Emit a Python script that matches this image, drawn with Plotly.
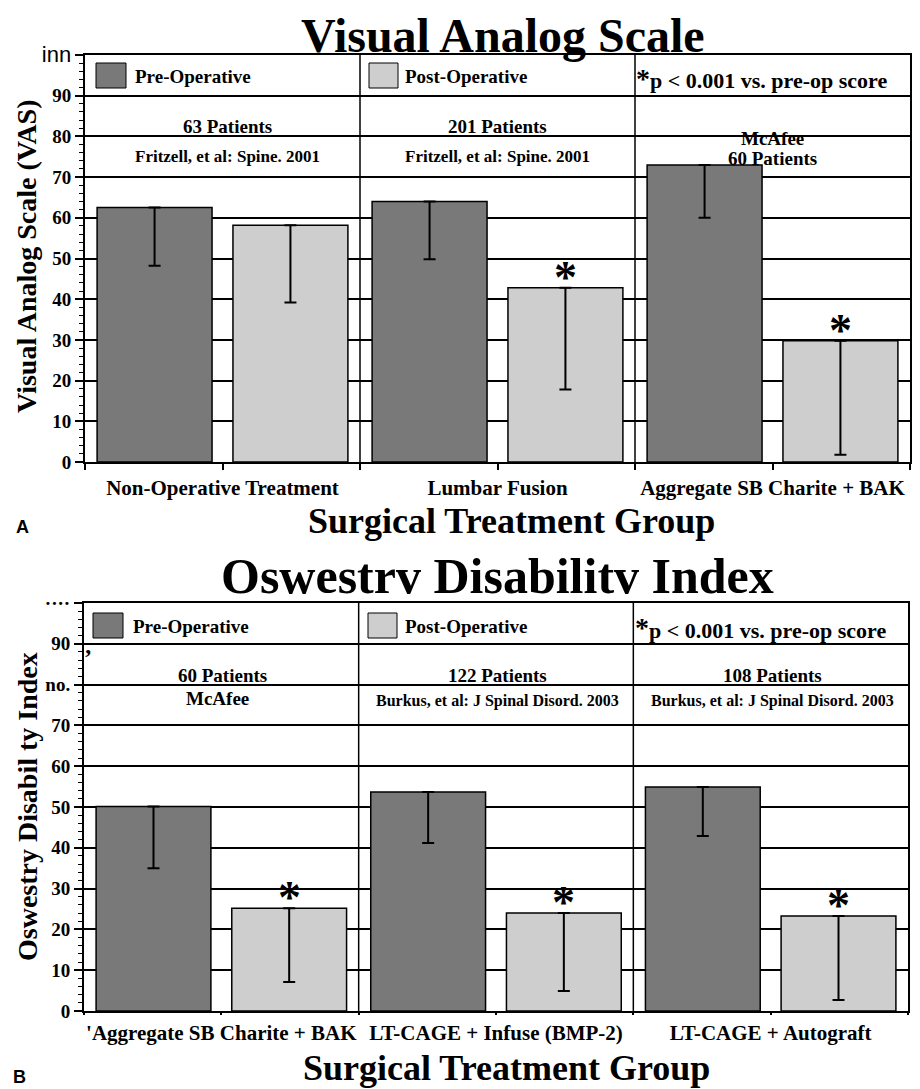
import plotly.graph_objects as go

# page pixel geometry: the browser body adds an 8px margin, so the figure is sized to fit
PAGE_W, PAGE_H = 920, 1089
OFF = 8
W, H = PAGE_W - OFF, PAGE_H - OFF

# ---------------- data ----------------
groups_A = ["Non-Operative Treatment", "Lumbar Fusion", "Aggregate SB Charite + BAK"]
pre_A = [62.5, 64.0, 73.0]
post_A = [58.2, 42.8, 29.8]
pre_err_A = [14.3, 14.2, 13.0]
post_err_A = [19.0, 25.0, 28.0]
sig_A = [False, True, True]
patients_A = ["63 Patients", "201 Patients", "McAfee"]
source_A = ["Fritzell, et al: Spine. 2001", "Fritzell, et al: Spine. 2001", "60 Patients"]
yticks_A = ["0", "10", "20", "30", "40", "50", "60", "70", "80", "90",
            "<span style=\"font-family:Liberation Sans Narrow, Liberation Sans;font-weight:normal;font-size:22px\">inn</span>"]

groups_B = ["'Aggregate SB Charite + BAK", "LT-CAGE + Infuse (BMP-2)", "LT-CAGE + Autograft"]
pre_B = [50.1, 53.7, 54.9]
post_B = [25.2, 24.0, 23.3]
pre_err_B = [15.1, 12.5, 12.0]
post_err_B = [18.1, 19.1, 20.6]
sig_B = [True, True, True]
patients_B = ["60 Patients", "122 Patients", "108 Patients"]
source_B = ["McAfee", "Burkus, et al: J Spinal Disord. 2003", "Burkus, et al: J Spinal Disord. 2003"]
yticks_B = ["0", "10", "20", "30", "40", "50", "60", "70", "no.", "90", "····"]

ytick_vals = [0, 10, 20, 30, 40, 50, 60, 70, 80, 90, 100]
series_names = ["Pre-Operative", "Post-Operative"]
pval_text = "p < 0.001 vs. pre-op score"

PRE_COL = "#797979"
POST_COL = "#cecece"
SERIF = "Liberation Serif"


def px(x):
    return (x - OFF) / W


def py(y):
    return 1 - (y - OFF) / H


fig = go.Figure()

BAR_W = 0.418
OFF_PRE = -0.456
OFF_POST = 0.038
xs = [0, 1, 2]


def add_panel(pre, post, pre_err, post_err, xa, ya):
    fig.add_trace(go.Bar(
        x=xs, y=pre, width=BAR_W, offset=OFF_PRE, name=series_names[0],
        marker=dict(color=PRE_COL, line=dict(color="black", width=1.5)),
        error_y=dict(type="data", symmetric=False, array=[0] * len(pre), arrayminus=pre_err,
                     color="black", thickness=2, width=6),
        xaxis=xa, yaxis=ya, showlegend=False))
    fig.add_trace(go.Bar(
        x=xs, y=post, width=BAR_W, offset=OFF_POST, name=series_names[1],
        marker=dict(color=POST_COL, line=dict(color="black", width=1.5)),
        error_y=dict(type="data", symmetric=False, array=[0] * len(post), arrayminus=post_err,
                     color="black", thickness=2, width=6),
        xaxis=xa, yaxis=ya, showlegend=False))


add_panel(pre_A, post_A, pre_err_A, post_err_A, "x", "y")
add_panel(pre_B, post_B, pre_err_B, post_err_B, "x2", "y2")

tickfont = dict(family=SERIF, size=19, color="black", weight="bold")
catfont = dict(family=SERIF, size=21, color="black", weight="bold")


def xaxis_cfg(domain, cats, ticklen):
    tv, tt = [], []
    for i, c in enumerate(cats):
        tv += [i - 0.5, i]
        tt += ["", c]
    tv.append(len(cats) - 0.5)
    tt.append("")
    return dict(domain=domain, range=[-0.5, 2.5], tickmode="array", tickvals=tv, ticktext=tt,
                ticks="outside", ticklen=ticklen, tickwidth=1.5, tickcolor="black",
                showline=True, linecolor="black", linewidth=2, mirror=True,
                showgrid=False, zeroline=False, tickfont=catfont, automargin=False)


def yaxis_cfg(domain, ticktext, anchor):
    return dict(domain=domain, range=[0, 100], tickmode="array", tickvals=ytick_vals,
                ticktext=ticktext, ticks="outside", ticklen=8, tickwidth=2, tickcolor="black",
                minor=dict(dtick=2, tick0=0, ticks="outside", ticklen=4, tickwidth=1,
                           tickcolor="black", showgrid=False),
                showline=True, linecolor="black", linewidth=2, mirror=True,
                showgrid=True, gridcolor="black", gridwidth=1.5, zeroline=False,
                tickfont=tickfont, automargin=False, anchor=anchor)


fig.update_layout(
    width=W, height=H, autosize=False,
    margin=dict(l=0, r=0, t=0, b=0),
    paper_bgcolor="white", plot_bgcolor="white",
    barmode="overlay",
    xaxis=dict(**xaxis_cfg([px(85), px(910)], groups_A, 6), anchor="y"),
    yaxis=yaxis_cfg([py(462), py(55)], yticks_A, "x"),
    xaxis2=dict(**xaxis_cfg([px(84), px(908)], groups_B, 2), anchor="y2"),
    yaxis2=yaxis_cfg([py(1011), py(603)], yticks_B, "x2"),
)

shapes = []
annotations = []

# vertical group dividers
for xr, yr in [("x", "y"), ("x2", "y2")]:
    for xv in [0.5, 1.5]:
        shapes.append(dict(type="line", xref=xr, yref=yr, x0=xv, x1=xv, y0=0, y1=100,
                           line=dict(color="black", width=1.5), layer="above"))

# significance asterisks above post-operative bars
for xr, yr, vals, sig in [("x", "y", post_A, sig_A), ("x2", "y2", post_B, sig_B)]:
    for i, (v, s) in enumerate(zip(vals, sig)):
        if s:
            annotations.append(dict(xref=xr, yref=yr, x=i + OFF_POST + BAR_W / 2, y=v,
                                    text="*", showarrow=False, xanchor="center", yanchor="bottom",
                                    yshift=-17,
                                    font=dict(family=SERIF, size=46, color="black", weight="bold")))


def legend_row(y0, y1, text_y, star_y, ptext_y, xs_sw, xs_txt, star_x, ptxt_x):
    cols = [PRE_COL, POST_COL]
    for k in range(2):
        shapes.append(dict(type="rect", xref="paper", yref="paper",
                           x0=px(xs_sw[k][0]), x1=px(xs_sw[k][1]), y0=py(y1), y1=py(y0),
                           fillcolor=cols[k], line=dict(color="black", width=1)))
        annotations.append(dict(xref="paper", yref="paper", x=px(xs_txt[k]), y=py(text_y),
                                text=series_names[k], showarrow=False, xanchor="left",
                                yanchor="middle",
                                font=dict(family=SERIF, size=19, color="black", weight="bold")))
    annotations.append(dict(xref="paper", yref="paper", x=px(star_x), y=py(star_y), text="*",
                            showarrow=False, xanchor="center", yanchor="middle",
                            font=dict(family=SERIF, size=28, color="black", weight="bold")))
    annotations.append(dict(xref="paper", yref="paper", x=px(ptxt_x), y=py(ptext_y), text=pval_text,
                            showarrow=False, xanchor="left", yanchor="middle",
                            font=dict(family=SERIF, size=22, color="black", weight="bold")))


legend_row(63, 88, 77, 78, 80.5, [(96, 126), (369, 398)], [133, 403], 643, 648)
legend_row(613, 638, 626, 627, 630, [(93, 123), (368, 397)], [131, 403], 642, 647)

# group info texts
centers_A = [227, 497, 772]
for i in range(3):
    annotations.append(dict(xref="paper", yref="paper", x=px(centers_A[i]), y=py(126 if i < 2 else 138),
                            text=patients_A[i], showarrow=False, xanchor="center", yanchor="middle",
                            font=dict(family=SERIF, size=19, color="black", weight="bold")))
    annotations.append(dict(xref="paper", yref="paper", x=px(centers_A[i]), y=py(157 if i < 2 else 158),
                            text=source_A[i], showarrow=False, xanchor="center", yanchor="middle",
                            font=dict(family=SERIF, size=17 if i < 2 else 19, color="black", weight="bold")))

centers_B = [222, 498, 772]
for i in range(3):
    annotations.append(dict(xref="paper", yref="paper", x=px(centers_B[i]), y=py(675),
                            text=patients_B[i], showarrow=False, xanchor="center", yanchor="middle",
                            font=dict(family=SERIF, size=19, color="black", weight="bold")))
    annotations.append(dict(xref="paper", yref="paper", x=px(centers_B[i] - (5 if i == 0 else 0)),
                            y=py(698 if i == 0 else 701),
                            text=source_B[i], showarrow=False, xanchor="center", yanchor="middle",
                            font=dict(family=SERIF, size=19 if i == 0 else 16, color="black", weight="bold")))

# titles
big = dict(family=SERIF, size=48, color="black", weight="bold")
annotations.append(dict(xref="paper", yref="paper", x=px(503), y=py(35), text="Visual Analog Scale",
                        showarrow=False, xanchor="center", yanchor="middle", font=big))
annotations.append(dict(xref="paper", yref="paper", x=px(498), y=py(576), text="Oswestrv Disabilitv Index",
                        showarrow=False, xanchor="center", yanchor="middle",
                        font=dict(family=SERIF, size=50, color="black", weight="bold")))

xt = dict(family=SERIF, size=36, color="black", weight="bold")
annotations.append(dict(xref="paper", yref="paper", x=px(511), y=py(521), text="Surgical Treatment Group",
                        showarrow=False, xanchor="center", yanchor="middle", font=xt))
annotations.append(dict(xref="paper", yref="paper", x=px(506), y=py(1068), text="Surgical Treatment Group",
                        showarrow=False, xanchor="center", yanchor="middle", font=xt))

yt = dict(family=SERIF, size=28, color="black", weight="bold")
annotations.append(dict(xref="paper", yref="paper", x=px(26), y=py(256), text="Visual Analog Scale (VAS)",
                        showarrow=False, xanchor="center", yanchor="middle", textangle=-90, font=yt))
annotations.append(dict(xref="paper", yref="paper", x=px(27), y=py(807), text="Oswestry Disabil ty Index",
                        showarrow=False, xanchor="center", yanchor="middle", textangle=-90, font=yt))

# panel letters
lab = dict(family="Liberation Sans", size=18, color="black", weight="bold")
annotations.append(dict(xref="paper", yref="paper", x=px(22), y=py(527), text="A",
                        showarrow=False, xanchor="center", yanchor="middle", font=lab))
annotations.append(dict(xref="paper", yref="paper", x=px(19), y=py(1077), text="B",
                        showarrow=False, xanchor="center", yanchor="middle", font=lab))

# small scan mark on panel B axis
annotations.append(dict(xref="paper", yref="paper", x=px(88), y=py(657), text="’",
                        showarrow=False, xanchor="center", yanchor="middle",
                        font=dict(family=SERIF, size=24, color="black", weight="bold")))

fig.update_layout(shapes=shapes, annotations=annotations)

fig.write_html("out.html")
